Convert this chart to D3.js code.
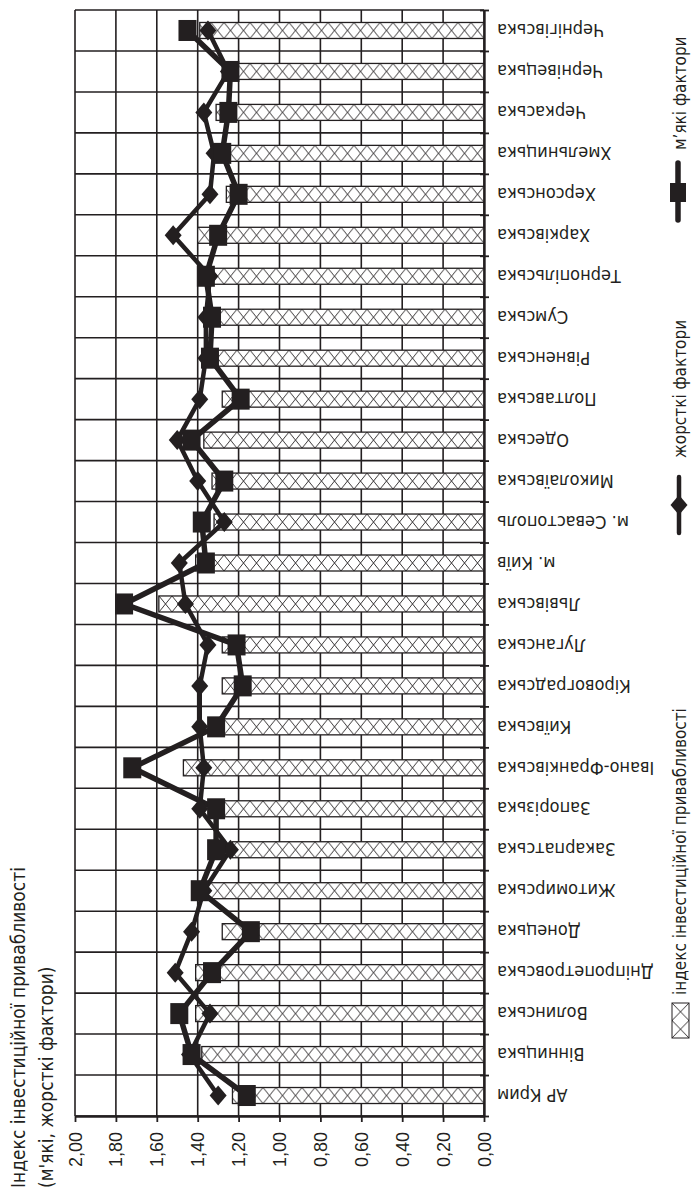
<!DOCTYPE html>
<html>
<head>
<meta charset="utf-8">
<script src="https://cdn.jsdelivr.net/npm/d3@7"></script>
<style>
  body { margin: 0; background: #fff; }
  svg { display: block; font-family: "DejaVu Sans Condensed", "Liberation Sans Narrow", sans-serif; font-stretch: condensed; }
</style>
</head>
<body>
<svg width="695" height="1192"></svg>
<script>
// categories from bottom to top of the picture
var regions = ["АР Крим", "Вінницька", "Волинська", "Дніпропетровська", "Донецька",
  "Житомирська", "Закарпатська", "Запорізька", "Івано-Франківська", "Київська",
  "Кіровоградська", "Луганська", "Львівська", "м. Київ", "м. Севастополь",
  "Миколаївська", "Одеська", "Полтавська", "Рівненська", "Сумська",
  "Тернопільська", "Харківська", "Херсонська", "Хмельницька", "Черкаська",
  "Чернівецька", "Чернігівська"];

var investIndex = [1.23, 1.38, 1.41, 1.41, 1.28, 1.35, 1.23, 1.30, 1.47, 1.30,
  1.28, 1.28, 1.59, 1.41, 1.32, 1.33, 1.37, 1.28, 1.33, 1.32,
  1.33, 1.40, 1.26, 1.25, 1.31, 1.22, 1.39];

var softFactors = [1.16, 1.43, 1.49, 1.33, 1.14, 1.39, 1.31, 1.31, 1.72, 1.31,
  1.18, 1.21, 1.76, 1.36, 1.38, 1.27, 1.43, 1.19, 1.34, 1.33,
  1.36, 1.30, 1.20, 1.28, 1.25, 1.24, 1.45];

var hardFactors = [1.30, 1.44, 1.34, 1.51, 1.43, 1.37, 1.24, 1.39, 1.37, 1.39,
  1.39, 1.35, 1.46, 1.49, 1.27, 1.40, 1.50, 1.39, 1.36, 1.36,
  1.34, 1.52, 1.34, 1.32, 1.37, 1.25, 1.35];

var valueTicks = [0, 0.2, 0.4, 0.6, 0.8, 1.0, 1.2, 1.4, 1.6, 1.8, 2.0];

var titleLines = ["Індекс інвестиційної привабливості", "(м'які, жорсткі фактори)"];
var legendNames = ["індекс інвестиційної привабливості", "жорсткі фактори", "м’які фактори"];

var ink = "#231f20";
var svg = d3.select("svg");

var plotL = 75, plotR = 484, plotT = 10, plotB = 1116;

var x = d3.scaleLinear().domain([0, 2]).range([plotR, plotL]);
var y = d3.scaleBand().domain(regions).range([plotB, plotT])
  .paddingInner(0.6).paddingOuter(0.3);
var yEdge = d3.scaleLinear().domain([0, regions.length]).range([plotB, plotT]);

var fmt = function(v) { return d3.format(".2f")(v).replace(".", ","); };

var rows = regions.map(function(r, i) {
  return { name: r, index: investIndex[i], soft: softFactors[i], hard: hardFactors[i] };
});

var barH = 16;
function cy(d) { return y(d.name) + y.bandwidth() / 2; }

// hatch patterns, one per bar so the crosses fit the bar height
var defs = svg.append("defs");
rows.forEach(function(d, i) {
  var p = defs.append("pattern")
    .attr("id", "hatch" + i)
    .attr("patternUnits", "userSpaceOnUse")
    .attr("x", plotR).attr("y", cy(d) - barH / 2)
    .attr("width", 13).attr("height", barH);
  p.append("rect").attr("width", 13).attr("height", barH).attr("fill", "#fff");
  p.append("path").attr("d", "M0,0L13," + barH + "M13,0L0," + barH)
    .attr("stroke", ink).attr("stroke-width", 0.9).attr("fill", "none");
});
var lp = defs.append("pattern")
  .attr("id", "hatchLegend")
  .attr("patternUnits", "userSpaceOnUse")
  .attr("x", 672).attr("y", 1003).attr("width", 17).attr("height", 17.5);
lp.append("rect").attr("width", 17).attr("height", 17.5).attr("fill", "#fff");
lp.append("path").attr("d", "M0,0L17,17.5M17,0L0,17.5")
  .attr("stroke", ink).attr("stroke-width", 0.9).attr("fill", "none");

// grid
svg.append("g").selectAll("line")
  .data(valueTicks)
  .enter().append("line")
  .attr("x1", function(d) { return x(d); }).attr("x2", function(d) { return x(d); })
  .attr("y1", plotT).attr("y2", plotB)
  .attr("stroke", ink).attr("stroke-width", 1.6);

svg.append("g").selectAll("line")
  .data(d3.range(regions.length + 1))
  .enter().append("line")
  .attr("x1", plotL).attr("x2", plotR)
  .attr("y1", function(d) { return yEdge(d); }).attr("y2", function(d) { return yEdge(d); })
  .attr("stroke", ink).attr("stroke-width", 1.6);

// bars
svg.append("g").selectAll("rect")
  .data(rows)
  .enter().append("rect")
  .attr("x", function(d) { return x(d.index); })
  .attr("y", function(d) { return cy(d) - barH / 2; })
  .attr("width", function(d) { return x(0) - x(d.index); })
  .attr("height", barH)
  .attr("fill", function(d, i) { return "url(#hatch" + i + ")"; })
  .attr("stroke", ink).attr("stroke-width", 1.3);

// value axis (bottom)
var xAxis = svg.append("g")
  .attr("transform", "translate(0," + plotB + ")")
  .call(d3.axisBottom(x).tickValues(valueTicks).tickFormat(fmt).tickSizeInner(6).tickSizeOuter(0));
xAxis.select(".domain").attr("stroke", ink).attr("stroke-width", 2.4);
xAxis.selectAll(".tick line").attr("stroke", ink).attr("stroke-width", 1.8);
xAxis.selectAll(".tick text")
  .attr("fill", ink)
  .attr("font-size", 18)
  .attr("text-anchor", "end")
  .attr("dy", null)
  .attr("y", 0)
  .attr("transform", "translate(6,16) rotate(-90)");

// category axis (right)
var yAxis = svg.append("g")
  .attr("transform", "translate(" + plotR + ",0)")
  .call(d3.axisRight(yEdge).tickValues(d3.range(regions.length + 1)).tickFormat("").tickSizeInner(5).tickSizeOuter(0));
yAxis.select(".domain").attr("stroke", ink).attr("stroke-width", 2.4);
yAxis.selectAll(".tick line").attr("stroke", ink).attr("stroke-width", 1.8).attr("x1", -4);

svg.append("g").selectAll("text")
  .data(rows)
  .enter().append("text")
  .attr("transform", function(d) { return "translate(497," + cy(d) + ") rotate(180)"; })
  .attr("text-anchor", "end")
  .attr("dy", "0.35em")
  .attr("font-size", 18)
  .attr("fill", ink)
  .text(function(d) { return d.name; });

// lines
var hardLine = d3.line().x(function(d) { return x(d.hard); }).y(cy);
var softLine = d3.line().x(function(d) { return x(d.soft); }).y(cy);

svg.append("path").datum(rows).attr("d", hardLine)
  .attr("fill", "none").attr("stroke", ink).attr("stroke-width", 4.5).attr("stroke-linejoin", "round");
svg.append("path").datum(rows).attr("d", softLine)
  .attr("fill", "none").attr("stroke", ink).attr("stroke-width", 5.5).attr("stroke-linejoin", "round");

var diamond = "M0,-10L8.5,0L0,10L-8.5,0Z";
svg.append("g").selectAll("path")
  .data(rows)
  .enter().append("path")
  .attr("d", diamond)
  .attr("transform", function(d) { return "translate(" + x(d.hard) + "," + cy(d) + ")"; })
  .attr("fill", ink);

svg.append("g").selectAll("rect")
  .data(rows)
  .enter().append("rect")
  .attr("x", function(d) { return x(d.soft) - 9; })
  .attr("y", function(d) { return cy(d) - 10.5; })
  .attr("width", 18).attr("height", 21)
  .attr("fill", ink);

// axis title
svg.append("g").selectAll("text")
  .data(titleLines)
  .enter().append("text")
  .attr("transform", function(d, i) { return "translate(" + (25 + i * 28) + ",1188) rotate(-90)"; })
  .attr("font-size", 19)
  .attr("fill", ink)
  .text(function(d) { return d; });

// legend
var lg = svg.append("g");
lg.append("rect").attr("x", 672).attr("y", 1003).attr("width", 17).attr("height", 35)
  .attr("fill", "url(#hatchLegend)").attr("stroke", ink).attr("stroke-width", 1);
lg.append("line").attr("x1", 679).attr("x2", 679).attr("y1", 477).attr("y2", 533)
  .attr("stroke", ink).attr("stroke-width", 4.5).attr("stroke-linecap", "round");
lg.append("path").attr("d", diamond).attr("transform", "translate(679,505)").attr("fill", ink);
lg.append("line").attr("x1", 678).attr("x2", 678).attr("y1", 163).attr("y2", 220)
  .attr("stroke", ink).attr("stroke-width", 5.5).attr("stroke-linecap", "round");
lg.append("rect").attr("x", 670).attr("y", 183).attr("width", 16).attr("height", 19).attr("fill", ink);

var legendPos = [[686, 995], [686, 458], [686, 150]];
lg.selectAll("text")
  .data(legendNames)
  .enter().append("text")
  .attr("transform", function(d, i) { return "translate(" + legendPos[i][0] + "," + legendPos[i][1] + ") rotate(-90)"; })
  .attr("font-size", 17)
  .attr("fill", ink)
  .text(function(d) { return d; });
</script>
</body>
</html>
